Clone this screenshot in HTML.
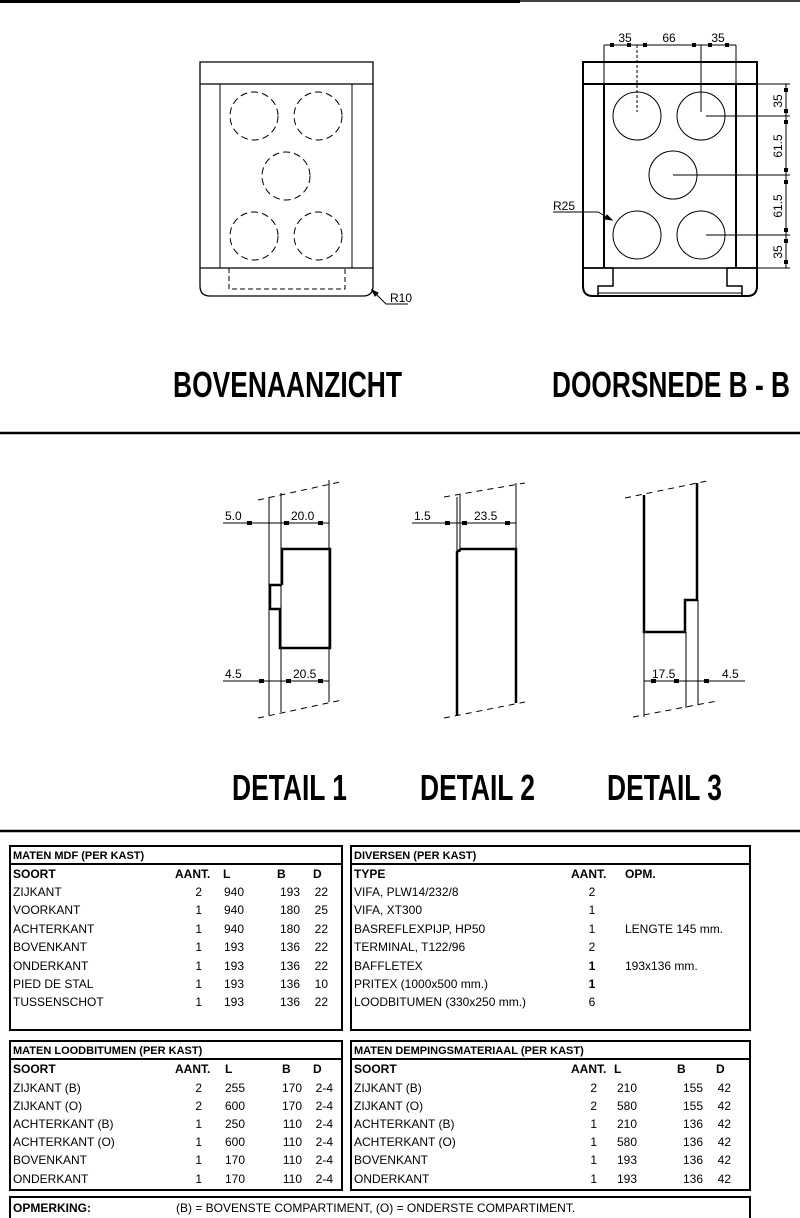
<!DOCTYPE html>
<html><head><meta charset="utf-8"><style>
html,body{margin:0;padding:0;background:#fff}
svg{display:block}
text{font-family:"Liberation Sans",Arial,sans-serif;fill:#000}
.t{font-size:12px}
.b{font-weight:bold}
.dim{font-size:12px;font-family:"DejaVu Sans","Liberation Sans",sans-serif}
.big{font-size:36px;font-weight:bold}
</style></head><body>
<svg width="800" height="1218" viewBox="0 0 800 1218" xmlns="http://www.w3.org/2000/svg">
<g stroke="#000" fill="none">
<line x1="0" y1="1.5" x2="520" y2="1.5" stroke-width="3"/>
<line x1="520" y1="1" x2="800" y2="1" stroke-width="1.5"/>
<line x1="0" y1="433" x2="800" y2="433" stroke-width="2.5"/>
<line x1="0" y1="831" x2="800" y2="831" stroke-width="2.5"/>

<path d="M200,62 H373 V286 Q373,296 363,296 H210 Q200,296 200,286 Z" stroke-width="1.3"/>
<line x1="200" y1="84" x2="373" y2="84" stroke-width="1.3"/>
<line x1="220" y1="84" x2="220" y2="268" stroke-width="1"/>
<line x1="352" y1="84" x2="352" y2="268" stroke-width="1"/>
<line x1="200" y1="268" x2="373" y2="268" stroke-width="1.3"/>
<path d="M229,268 V289 H345 V268" stroke-dasharray="5,3"/>
<g stroke-dasharray="7,4" stroke-width="1">
<circle cx="254" cy="116" r="24"/><circle cx="318" cy="116" r="24"/>
<circle cx="286" cy="176" r="24"/>
<circle cx="254" cy="236" r="24"/><circle cx="318" cy="236" r="24"/>
</g>
<path d="M372,290 L386,304 H408" stroke-width="1"/>
<path d="M372,290 l6,3 l-3,3 z" fill="#000"/>

<path d="M583,62 H757 V286 Q757,296 747,296 H593 Q583,296 583,286 Z" stroke-width="2"/>
<line x1="583" y1="84" x2="757" y2="84" stroke-width="2"/>
<line x1="604" y1="84" x2="604" y2="268" stroke-width="2"/>
<line x1="736" y1="84" x2="736" y2="268" stroke-width="2"/>
<line x1="583" y1="268" x2="757" y2="268" stroke-width="1.5"/>
<path d="M583,268 H613 V286 H598 V296" stroke-width="1.5"/>
<path d="M757,268 H727 V286 H742 V296" stroke-width="1.5"/>
<line x1="598" y1="293" x2="742" y2="293" stroke-width="1"/>
<g stroke-width="1">
<circle cx="637" cy="116" r="24"/><circle cx="701" cy="116" r="24"/>
<circle cx="673" cy="175" r="24"/>
<circle cx="637" cy="235" r="24"/><circle cx="701" cy="235" r="24"/>
<line x1="604" y1="45" x2="736" y2="45"/>
<line x1="604" y1="45" x2="604" y2="84"/>
<line x1="736" y1="45" x2="736" y2="84"/>
<line x1="637" y1="45" x2="637" y2="112" stroke-dasharray="3,2"/>
<line x1="701" y1="45" x2="701" y2="112"/>
<line x1="757" y1="84" x2="790" y2="84"/>
<line x1="706" y1="116" x2="790" y2="116"/>
<line x1="673" y1="175" x2="790" y2="175"/>
<line x1="706" y1="235" x2="790" y2="235"/>
<line x1="757" y1="268" x2="790" y2="268"/>
<line x1="786" y1="84" x2="786" y2="268"/>
<path d="M553,212 H598 L612,220"/>
</g>
<path d="M612,220 l-7,-1 l2,-4 z" fill="#000"/>
<g fill="#000" stroke="none">
<rect x="610" y="43" width="4" height="4"/><rect x="627" y="43" width="4" height="4"/><rect x="643" y="43" width="4" height="4"/><rect x="692" y="43" width="4" height="4"/><rect x="708" y="43" width="4" height="4"/><rect x="725" y="43" width="4" height="4"/>
<rect x="784" y="88" width="4" height="4"/><rect x="784" y="109" width="4" height="4"/><rect x="784" y="120" width="4" height="4"/><rect x="784" y="168" width="4" height="4"/><rect x="784" y="180" width="4" height="4"/><rect x="784" y="228" width="4" height="4"/><rect x="784" y="239" width="4" height="4"/><rect x="784" y="260" width="4" height="4"/>
</g>

<g stroke-width="1">
<path d="M258,500 L340,482" stroke-dasharray="6,5"/>
<path d="M258,718 L342,700" stroke-dasharray="6,5"/>
<line x1="269" y1="497" x2="269" y2="715"/>
<line x1="281" y1="493" x2="281" y2="712"/>
<line x1="329" y1="480" x2="329" y2="702"/>
<line x1="223" y1="523" x2="329" y2="523"/>
<line x1="223" y1="681" x2="329" y2="681"/>
<path d="M444,497 L525,483" stroke-dasharray="6,5"/>
<path d="M444,718 L525,702" stroke-dasharray="6,5"/>
<line x1="457" y1="497" x2="457" y2="552"/>
<line x1="460" y1="495" x2="460" y2="552"/>
<line x1="516" y1="483" x2="516" y2="549"/>
<line x1="412" y1="523" x2="516" y2="523"/>
<path d="M625,498 L707,481" stroke-dasharray="6,5"/>
<path d="M633,717 L717,701" stroke-dasharray="6,5"/>
<line x1="644" y1="632" x2="644" y2="717"/>
<line x1="686" y1="632" x2="686" y2="708"/>
<line x1="698" y1="600" x2="698" y2="705"/>
<line x1="644" y1="681" x2="745" y2="681"/>
</g>
<g stroke-width="2.5">
<path d="M282,585 V549 H330 V648 H280 V609 H270 V585 H282"/>
<path d="M457,716 V552 L461,549 H516 V703"/>
<path d="M644,495 V632 H685 V600 H697 V483"/>
</g>
<g fill="#000" stroke="none">
<rect x="247" y="521" width="5" height="4"/><rect x="284" y="521" width="5" height="4"/><rect x="318" y="521" width="5" height="4"/>
<rect x="259" y="679" width="5" height="4"/><rect x="286" y="679" width="5" height="4"/><rect x="318" y="679" width="5" height="4"/>
<rect x="445" y="521" width="5" height="4"/><rect x="462" y="521" width="5" height="4"/><rect x="505" y="521" width="5" height="4"/>
<rect x="651" y="679" width="5" height="4"/><rect x="674" y="679" width="5" height="4"/><rect x="704" y="679" width="5" height="4"/>
</g>

<g stroke-width="2">
<rect x="10" y="846" width="332" height="184"/>
<line x1="10" y1="864" x2="342" y2="864"/>
<rect x="351" y="846" width="399" height="184"/>
<line x1="351" y1="864" x2="750" y2="864"/>
<rect x="10" y="1041" width="332" height="149"/>
<line x1="10" y1="1059" x2="342" y2="1059"/>
<rect x="351" y="1041" width="399" height="149"/>
<line x1="351" y1="1059" x2="750" y2="1059"/>
<path d="M10,1218 V1197 H750 V1218"/>
</g>
</g>

<g class="dim">
<text x="625" y="42" text-anchor="middle">35</text>
<text x="669" y="42" text-anchor="middle">66</text>
<text x="718" y="42" text-anchor="middle">35</text>
<text transform="translate(782,101) rotate(-90)" text-anchor="middle">35</text>
<text transform="translate(782,146) rotate(-90)" text-anchor="middle">61.5</text>
<text transform="translate(782,206) rotate(-90)" text-anchor="middle">61.5</text>
<text transform="translate(782,252) rotate(-90)" text-anchor="middle">35</text>
<text x="553" y="210">R25</text>
<text x="390" y="302">R10</text>
<text x="225" y="520">5.0</text>
<text x="291" y="520">20.0</text>
<text x="225" y="678">4.5</text>
<text x="293" y="678">20.5</text>
<text x="414" y="520">1.5</text>
<text x="474" y="520">23.5</text>
<text x="652" y="678">17.5</text>
<text x="722" y="678">4.5</text>
</g>
<g class="big">
<text x="173" y="397" textLength="229" lengthAdjust="spacingAndGlyphs">BOVENAANZICHT</text>
<text x="552" y="397" textLength="238" lengthAdjust="spacingAndGlyphs">DOORSNEDE B - B</text>
<text x="232" y="800" textLength="115" lengthAdjust="spacingAndGlyphs">DETAIL 1</text>
<text x="420" y="800" textLength="115" lengthAdjust="spacingAndGlyphs">DETAIL 2</text>
<text x="607" y="800" textLength="115" lengthAdjust="spacingAndGlyphs">DETAIL 3</text>
</g>

<g class="t">
<text x="13" y="859" class="b" font-size="11">MATEN MDF (PER KAST)</text>
<text x="13" y="878" class="b">SOORT</text><text x="175" y="878" class="b">AANT.</text><text x="223" y="878" class="b">L</text><text x="277" y="878" class="b">B</text><text x="313" y="878" class="b">D</text>
<text x="13" y="896">ZIJKANT</text><text x="13" y="914">VOORKANT</text><text x="13" y="933">ACHTERKANT</text><text x="13" y="951">BOVENKANT</text><text x="13" y="970">ONDERKANT</text><text x="13" y="988">PIED DE STAL</text><text x="13" y="1006">TUSSENSCHOT</text>
<g text-anchor="end">
<text x="202" y="896">2</text><text x="202" y="914">1</text><text x="202" y="933">1</text><text x="202" y="951">1</text><text x="202" y="970">1</text><text x="202" y="988">1</text><text x="202" y="1006">1</text>
<text x="244" y="896">940</text><text x="244" y="914">940</text><text x="244" y="933">940</text><text x="244" y="951">193</text><text x="244" y="970">193</text><text x="244" y="988">193</text><text x="244" y="1006">193</text>
<text x="300" y="896">193</text><text x="300" y="914">180</text><text x="300" y="933">180</text><text x="300" y="951">136</text><text x="300" y="970">136</text><text x="300" y="988">136</text><text x="300" y="1006">136</text>
<text x="328" y="896">22</text><text x="328" y="914">25</text><text x="328" y="933">22</text><text x="328" y="951">22</text><text x="328" y="970">22</text><text x="328" y="988">10</text><text x="328" y="1006">22</text>
</g>
<text x="354" y="859" class="b" font-size="11">DIVERSEN (PER KAST)</text>
<text x="354" y="878" class="b">TYPE</text><text x="571" y="878" class="b">AANT.</text><text x="625" y="878" class="b">OPM.</text>
<text x="354" y="896">VIFA, PLW14/232/8</text><text x="354" y="914">VIFA, XT300</text><text x="354" y="933">BASREFLEXPIJP, HP50</text><text x="354" y="951">TERMINAL, T122/96</text><text x="354" y="970">BAFFLETEX</text><text x="354" y="988">PRITEX (1000x500 mm.)</text><text x="354" y="1006">LOODBITUMEN (330x250 mm.)</text>
<g text-anchor="middle">
<text x="592" y="896">2</text><text x="592" y="914">1</text><text x="592" y="933">1</text><text x="592" y="951">2</text><text x="592" y="970" class="b">1</text><text x="592" y="988" class="b">1</text><text x="592" y="1006">6</text>
</g>
<text x="625" y="933">LENGTE 145 mm.</text><text x="625" y="970">193x136 mm.</text>
<text x="13" y="1054" class="b" font-size="11">MATEN LOODBITUMEN (PER KAST)</text>
<text x="13" y="1073" class="b">SOORT</text><text x="175" y="1073" class="b">AANT.</text><text x="225" y="1073" class="b">L</text><text x="282" y="1073" class="b">B</text><text x="313" y="1073" class="b">D</text>
<text x="13" y="1092">ZIJKANT (B)</text><text x="13" y="1110">ZIJKANT (O)</text><text x="13" y="1128">ACHTERKANT (B)</text><text x="13" y="1146">ACHTERKANT (O)</text><text x="13" y="1164">BOVENKANT</text><text x="13" y="1183">ONDERKANT</text>
<g text-anchor="end">
<text x="202" y="1092">2</text><text x="202" y="1110">2</text><text x="202" y="1128">1</text><text x="202" y="1146">1</text><text x="202" y="1164">1</text><text x="202" y="1183">1</text>
<text x="245" y="1092">255</text><text x="245" y="1110">600</text><text x="245" y="1128">250</text><text x="245" y="1146">600</text><text x="245" y="1164">170</text><text x="245" y="1183">170</text>
<text x="302" y="1092">170</text><text x="302" y="1110">170</text><text x="302" y="1128">110</text><text x="302" y="1146">110</text><text x="302" y="1164">110</text><text x="302" y="1183">110</text>
<text x="333" y="1092">2-4</text><text x="333" y="1110">2-4</text><text x="333" y="1128">2-4</text><text x="333" y="1146">2-4</text><text x="333" y="1164">2-4</text><text x="333" y="1183">2-4</text>
</g>
<text x="354" y="1054" class="b" font-size="11">MATEN DEMPINGSMATERIAAL (PER KAST)</text>
<text x="354" y="1073" class="b">SOORT</text><text x="571" y="1073" class="b">AANT.</text><text x="614" y="1073" class="b">L</text><text x="677" y="1073" class="b">B</text><text x="716" y="1073" class="b">D</text>
<text x="354" y="1092">ZIJKANT (B)</text><text x="354" y="1110">ZIJKANT (O)</text><text x="354" y="1128">ACHTERKANT (B)</text><text x="354" y="1146">ACHTERKANT (O)</text><text x="354" y="1164">BOVENKANT</text><text x="354" y="1183">ONDERKANT</text>
<g text-anchor="end">
<text x="597" y="1092">2</text><text x="597" y="1110">2</text><text x="597" y="1128">1</text><text x="597" y="1146">1</text><text x="597" y="1164">1</text><text x="597" y="1183">1</text>
<text x="637" y="1092">210</text><text x="637" y="1110">580</text><text x="637" y="1128">210</text><text x="637" y="1146">580</text><text x="637" y="1164">193</text><text x="637" y="1183">193</text>
<text x="703" y="1092">155</text><text x="703" y="1110">155</text><text x="703" y="1128">136</text><text x="703" y="1146">136</text><text x="703" y="1164">136</text><text x="703" y="1183">136</text>
<text x="731" y="1092">42</text><text x="731" y="1110">42</text><text x="731" y="1128">42</text><text x="731" y="1146">42</text><text x="731" y="1164">42</text><text x="731" y="1183">42</text>
</g>
<text x="13" y="1212" class="b">OPMERKING:</text>
<text x="176" y="1212">(B) = BOVENSTE COMPARTIMENT, (O) = ONDERSTE COMPARTIMENT.</text>
</g>
</svg>
</body></html>
